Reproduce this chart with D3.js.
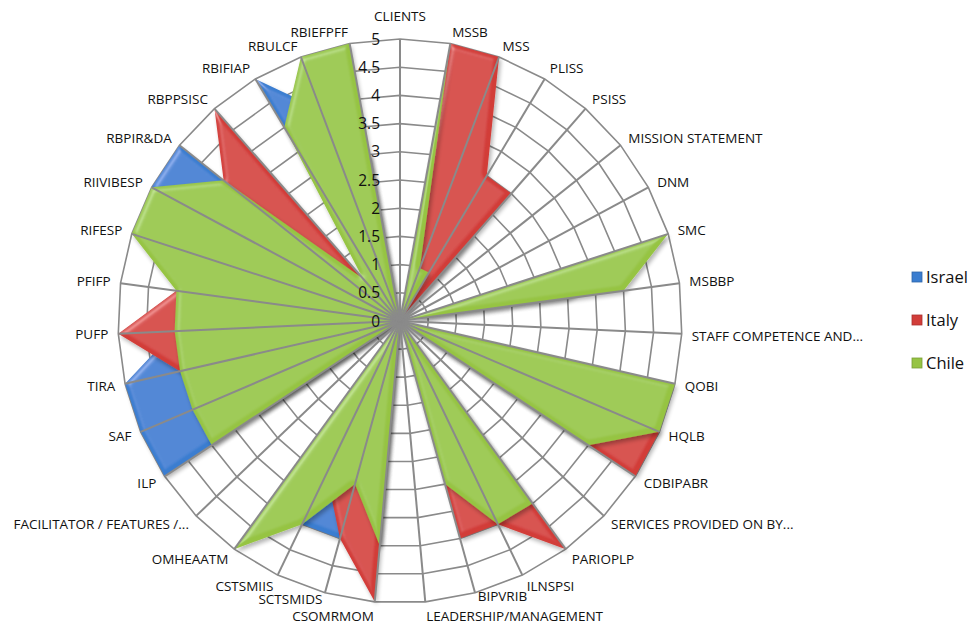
<!DOCTYPE html>
<html>
<head>
<meta charset="utf-8">
<script src="https://cdn.jsdelivr.net/npm/d3@7"></script>
<style>
  html, body { margin: 0; padding: 0; background: #fff; }
  svg { display: block; }
  text { font-family: "Open Sans", "Noto Sans", sans-serif; fill: #111; }
</style>
</head>
<body>
<svg id="radar" width="977" height="624"></svg>
<script>
// --- data (clockwise from top) ---
const categories = [
  "CLIENTS", "MSSB", "MSS", "PLISS", "PSISS", "MISSION STATEMENT", "DNM", "SMC",
  "MSBBP", "STAFF COMPETENCE AND...", "QOBI", "HQLB", "CDBIPABR",
  "SERVICES PROVIDED ON BY...", "PARIOPLP", "ILNSPSI", "BIPVRIB",
  "LEADERSHIP/MANAGEMENT", "CSOMRMOM", "SCTSMIDS", "CSTSMIIS", "OMHEAATM",
  "FACILITATOR / FEATURES /...", "ILP", "SAF", "TIRA", "PUFP", "PFIFP", "RIFESP",
  "RIIVIBESP", "RBPIR&DA", "RBPPSISC", "RBIFIAP", "RBULCF", "RBIEFPFF"
];
const israel = [0, 4, 4, 2, 2, 0, 0, 5, 3, 0, 4, 4, 4, 0, 4, 3, 3, 0, 4, 4, 4, 4, 0, 5, 5, 5, 4, 3, 4, 5, 5, 0, 5, 4, 3];
const italy  = [0, 5, 5, 3, 3, 0, 0, 0, 0, 0, 4, 5, 5, 0, 5, 4, 4, 0, 5, 4, 3, 4, 0, 3, 3, 4, 5, 4, 4, 4, 4, 5, 0, 3, 3];
const chile  = [0, 5, 1, 1, 0, 0, 0, 5, 4, 0, 5, 5, 4, 0, 4, 4, 3, 0, 4, 3, 4, 5, 0, 4, 4, 4, 4, 4, 5, 5, 4, 1, 4, 5, 5];
const seriesNames = ["Israel", "Italy", "Chile"];
const seriesColors = ["#3a7dd0", "#d23d39", "#96c443"];
const tickValues = [0, 0.5, 1, 1.5, 2, 2.5, 3, 3.5, 4, 4.5, 5];

const W = 977, H = 624;
const cx = 400, cy = 321, R = 282;
const n = categories.length;

const svg = d3.select("#radar");
const defs = svg.append("defs");

// bevel + soft shadow, roughly like the office 3D fill
const f = defs.append("filter").attr("id", "bevel")
  .attr("filterUnits", "userSpaceOnUse")
  .attr("x", -cx).attr("y", -cy).attr("width", W).attr("height", H);
f.append("feGaussianBlur").attr("in", "SourceAlpha").attr("stdDeviation", 2.5).attr("result", "blur");
f.append("feSpecularLighting").attr("in", "blur").attr("surfaceScale", 3)
  .attr("specularConstant", 0.35).attr("specularExponent", 20)
  .attr("lighting-color", "#ffffff").attr("result", "spec")
  .append("feDistantLight").attr("azimuth", 225).attr("elevation", 45);
f.append("feComposite").attr("in", "spec").attr("in2", "SourceAlpha").attr("operator", "in").attr("result", "specIn");
f.append("feComposite").attr("in", "SourceGraphic").attr("in2", "specIn")
  .attr("operator", "arithmetic").attr("k1", 0).attr("k2", 1).attr("k3", 0.6).attr("k4", 0).attr("result", "lit");
f.append("feOffset").attr("in", "SourceAlpha").attr("dx", 2).attr("dy", 3).attr("result", "off");
f.append("feGaussianBlur").attr("in", "off").attr("stdDeviation", 2).attr("result", "offBlur");
f.append("feComponentTransfer").attr("in", "offBlur").attr("result", "shadow")
  .append("feFuncA").attr("type", "linear").attr("slope", 0.3);
const fm = f.append("feMerge");
fm.append("feMergeNode").attr("in", "shadow");
fm.append("feMergeNode").attr("in", "lit");

const r = d3.scaleLinear().domain([0, 5]).range([0, R]);
const a = d3.scaleLinear().domain([0, n]).range([0, 2 * Math.PI]);

const g = svg.append("g").attr("transform", `translate(${cx},${cy})`);

// rings (polygon grid)
const ring = d3.lineRadial()
  .angle((d, i) => a(i))
  .radius(d => r(d))
  .curve(d3.curveLinearClosed);

g.append("g").selectAll("path")
  .data(tickValues.filter(v => v > 0))
  .join("path")
  .attr("d", v => ring(d3.range(n).map(() => v)))
  .attr("fill", "none")
  .attr("stroke", "#8a8a8a")
  .attr("stroke-width", 1.6);

// series areas, Israel at the back, Chile in front
const area = d3.lineRadial()
  .angle((d, i) => a(i))
  .radius(d => r(d))
  .curve(d3.curveLinearClosed);

[israel, italy, chile].forEach((vals, k) => {
  g.append("path")
    .attr("d", area(vals))
    .attr("fill", seriesColors[k])
    .attr("filter", "url(#bevel)");
});

// spokes on top
g.append("g").selectAll("line")
  .data(d3.range(n))
  .join("line")
  .attr("x1", 0).attr("y1", 0)
  .attr("x2", i => r(5) * Math.sin(a(i)))
  .attr("y2", i => -r(5) * Math.cos(a(i)))
  .attr("stroke", "#8a8a8a")
  .attr("stroke-width", 2);

// value labels along the CLIENTS axis
g.append("g").selectAll("text")
  .data(tickValues)
  .join("text")
  .attr("x", -20)
  .attr("y", v => -r(v))
  .attr("dy", "0.36em")
  .attr("text-anchor", "end")
  .style("font-size", "15.5px")
  .text(v => String(v));

// category labels; a few bottom ones nudged so they don't sit on each other
const lo = 10;
const nudge = { 9: 2, 16: -8, 17: 2, 18: 2, 19: -5 };
g.append("g").selectAll("text")
  .data(categories)
  .join("text")
  .each(function(d, i) {
    const ang = a(i), s = Math.sin(ang), c = Math.cos(ang);
    let x = (R + lo) * s, y = -(R + lo) * c;
    let anchor = "middle";
    if (s > 0.05) anchor = "start";
    else if (s < -0.05) anchor = "end";
    if (anchor === "middle") y += c > 0 ? -13 : 13;
    else y += -c * 2;
    y += nudge[i] || 0;
    d3.select(this)
      .attr("x", x).attr("y", y)
      .attr("dy", "0.36em")
      .attr("text-anchor", anchor);
  })
  .style("font-size", "13.5px")
  .text(d => d);

// legend, far right
const leg = svg.append("g").attr("transform", "translate(912,277)");
seriesNames.forEach((name, k) => {
  const row = leg.append("g").attr("transform", `translate(0,${k * 43})`);
  row.append("rect")
    .attr("x", 0).attr("y", -5).attr("width", 10).attr("height", 10)
    .attr("fill", seriesColors[k])
    .attr("stroke", d3.color(seriesColors[k]).darker(0.6))
    .attr("stroke-width", 0.8);
  row.append("text")
    .attr("x", 14).attr("y", 0).attr("dy", "0.36em")
    .style("font-size", "16.5px")
    .text(name);
});
</script>
</body>
</html>
